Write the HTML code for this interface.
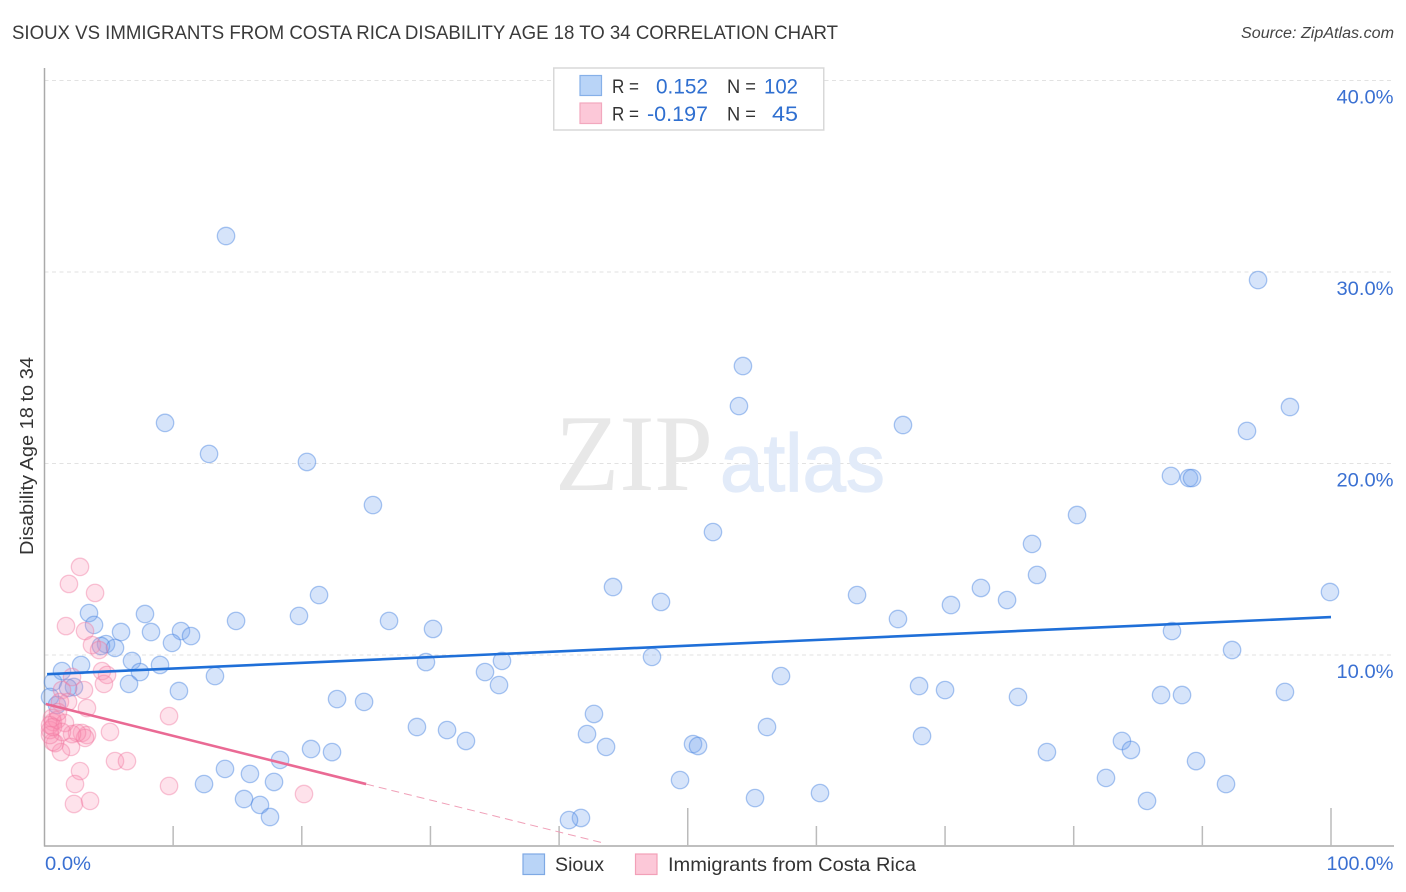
<!DOCTYPE html>
<html lang="en">
<head>
<meta charset="utf-8">
<title>Sioux vs Immigrants from Costa Rica Disability Age 18 to 34 Correlation Chart</title>
<style>
html,body{margin:0;padding:0;background:#fff;width:1406px;height:892px;overflow:hidden}
svg{display:block;font-family:"Liberation Sans",sans-serif}
</style>
</head>
<body>
<svg id="chart" xmlns="http://www.w3.org/2000/svg" width="1406" height="892" viewBox="0 0 1406 892">
  <rect x="0" y="0" width="1406" height="892" fill="#ffffff"/>
  <text x="12" y="39" font-size="19" fill="#3a3a3a" textLength="826" lengthAdjust="spacingAndGlyphs">SIOUX VS IMMIGRANTS FROM COSTA RICA DISABILITY AGE 18 TO 34 CORRELATION CHART</text>
  <text x="1241" y="38" font-size="15.5" font-style="italic" fill="#444444" textLength="153" lengthAdjust="spacingAndGlyphs">Source: ZipAtlas.com</text>
  <g id="grid"></g>
  <text x="555" y="490" font-size="109" font-family="'Liberation Serif',serif" fill="#e8e8e8" textLength="158" lengthAdjust="spacingAndGlyphs">ZIP</text>
  <text x="720" y="491" font-size="82" fill="#e2ebf9" stroke="#e2ebf9" stroke-width="1.2" textLength="165" lengthAdjust="spacingAndGlyphs">atlas</text>
  <g id="axes"></g>
  <g id="points"></g>
  <g id="lines"></g>
  <text x="0" y="0" transform="translate(33 555) rotate(-90)" font-size="18" fill="#333333" textLength="198" lengthAdjust="spacingAndGlyphs">Disability Age 18 to 34</text>
  <g id="ticklabels"></g>

  <g>
    <rect x="553.75" y="68" width="270" height="62" fill="#ffffff" stroke="#d8d8d8" stroke-width="1.5"/>
    <rect x="580" y="75.5" width="21.5" height="20" fill="#b9d4f7" stroke="#86b0e8" stroke-width="1.2"/>
    <rect x="580" y="103" width="21.5" height="20.5" fill="#fcc8d8" stroke="#f2a8be" stroke-width="1.2"/>
    <text x="612" y="93" font-size="19" fill="#333333" textLength="27" lengthAdjust="spacingAndGlyphs">R =</text>
    <text x="656" y="93.5" font-size="21" fill="#2f6fd0" textLength="52" lengthAdjust="spacingAndGlyphs">0.152</text>
    <text x="727" y="93" font-size="19" fill="#333333" textLength="29" lengthAdjust="spacingAndGlyphs">N =</text>
    <text x="764" y="93.5" font-size="21" fill="#2f6fd0" textLength="34" lengthAdjust="spacingAndGlyphs">102</text>
    <text x="612" y="120.5" font-size="19" fill="#333333" textLength="27" lengthAdjust="spacingAndGlyphs">R =</text>
    <text x="647" y="121" font-size="21" fill="#2f6fd0" textLength="61" lengthAdjust="spacingAndGlyphs">-0.197</text>
    <text x="727" y="120.5" font-size="19" fill="#333333" textLength="29" lengthAdjust="spacingAndGlyphs">N =</text>
    <text x="772" y="121" font-size="21" fill="#2f6fd0" textLength="26" lengthAdjust="spacingAndGlyphs">45</text>
  </g>

  <g>
    <rect x="523" y="854" width="21.5" height="20.5" fill="#b9d4f7" stroke="#7ea9e4" stroke-width="1.2"/>
    <text x="555" y="871" font-size="19.5" fill="#333333" textLength="49" lengthAdjust="spacingAndGlyphs">Sioux</text>
    <rect x="635.5" y="854" width="21.5" height="20.5" fill="#fcc8d8" stroke="#f2a0b8" stroke-width="1.2"/>
    <text x="668" y="871" font-size="19.5" fill="#333333" textLength="248" lengthAdjust="spacingAndGlyphs">Immigrants from Costa Rica</text>
  </g>
</svg>

<script>
// Chart data (percent values)
const xTickValues = [0, 10, 20, 30, 40, 50, 60, 70, 80, 90, 100];
const yTickValues = [10, 20, 30, 40];
const yTickLabels = ['10.0%', '20.0%', '30.0%', '40.0%'];
const xEndLabels = ['0.0%', '100.0%'];

const siouxX = [14.11,94.33,54.29,53.98,9.37,66.73,96.81,93.47,12.79,20.40,87.56,88.96,89.20,25.53,80.26,51.96,76.76,77.15,72.79,44.19,99.92,21.34,63.16,74.82,47.92,70.46,3.46,7.81,19.78,66.34,14.89,26.78,3.85,30.20,5.95,8.28,10.61,87.64,11.39,9.91,4.78,4.39,5.48,92.31,47.22,6.80,29.65,35.56,8.98,2.84,1.36,7.42,34.24,13.25,57.25,0.66,6.57,35.33,67.98,2.29,1.83,70.00,10.45,96.42,86.79,88.42,0.43,0.97,75.67,22.74,24.84,42.71,28.95,56.16,31.29,42.17,68.21,32.76,83.75,50.41,50.80,43.65,20.72,84.45,22.35,77.92,18.31,89.51,14.03,15.97,82.51,49.40,17.84,12.40,91.84,60.28,55.23,15.51,85.70,16.75,41.70,40.77,17.53];
const siouxY = [31.88,29.58,25.09,23.00,22.12,22.01,22.95,21.70,20.50,20.08,19.35,19.24,19.24,17.83,17.31,16.42,15.80,14.18,13.50,13.55,13.29,13.13,13.13,12.87,12.77,12.61,12.19,12.14,12.04,11.88,11.78,11.78,11.57,11.36,11.20,11.20,11.25,11.25,10.99,10.63,10.57,10.47,10.37,10.26,9.90,9.69,9.63,9.69,9.48,9.48,9.16,9.11,9.11,8.90,8.90,8.59,8.49,8.43,8.38,8.33,8.28,8.17,8.12,8.07,7.91,7.91,7.81,7.39,7.81,7.70,7.55,6.92,6.24,6.24,6.08,5.87,5.77,5.51,5.51,5.35,5.25,5.20,5.09,5.04,4.93,4.93,4.52,4.46,4.05,3.79,3.58,3.47,3.37,3.26,3.26,2.79,2.53,2.48,2.38,2.17,1.49,1.38,1.54];

const costaRicaX = [2.76,1.90,3.93,1.67,3.15,3.69,4.24,4.47,4.86,4.62,2.14,3.07,3.30,1.36,1.83,1.20,9.68,5.09,5.48,6.41,2.76,2.37,2.29,3.54,9.68,20.17,2.91,3.30,3.15,2.53,2.14,2.06,1.28,0.82,0.66,0.43,0.66,0.58,0.97,0.43,1.59,1.36,0.43,1.05,0.66];
const costaRicaY = [14.60,13.71,13.24,11.51,11.25,10.52,10.26,9.16,8.96,8.49,8.85,8.17,7.23,8.17,7.55,7.55,6.81,5.98,4.46,4.46,3.94,3.26,2.22,2.38,3.16,2.74,5.93,5.82,5.67,5.93,5.87,5.20,4.93,5.40,5.46,6.08,6.50,6.71,6.61,6.34,6.45,5.98,5.82,7.02,6.24];

const siouxTrendX = [0.2, 100];
const siouxTrendY = [9.0, 11.98];
const costaRicaTrendX = [0.1, 25];
const costaRicaTrendY = [7.44, 3.26];
const costaRicaDashX = [25, 43.4];
const costaRicaDashY = [3.26, 0.19];

// Axis functions
const NS = 'http://www.w3.org/2000/svg';
const sx = v => 44.5 + v * 12.865;
const sy = v => 846.5 - v * 19.15;

function mk(parent, tag, attrs, text) {
  const el = document.createElementNS(NS, tag);
  for (const k in attrs) el.setAttribute(k, attrs[k]);
  if (text !== undefined) el.textContent = text;
  parent.appendChild(el);
  return el;
}

const grid = document.getElementById('grid');
const axes = document.getElementById('axes');
const points = document.getElementById('points');
const lines = document.getElementById('lines');
const tickLabels = document.getElementById('ticklabels');

yTickValues.forEach(function (v, i) {
  const g = mk(grid, 'line', {x1: 44.5, x2: 1394, y1: sy(v), y2: sy(v), stroke: '#e2e2e2', 'stroke-width': 1, 'stroke-dasharray': '4 3.5'});
  
  
  const t = mk(tickLabels, 'text', {x: 1393.5, y: sy(v) + 23, 'font-size': 19.5, fill: '#3a70d2', 'text-anchor': 'end', textLength: 57, lengthAdjust: 'spacingAndGlyphs'}, yTickLabels[i]);
  
  
});

const yAxis = mk(axes, 'line', {x1: 44.5, x2: 44.5, y1: 68, y2: 846.5, stroke: '#aaaaaa', 'stroke-width': 1.5});


const xAxis = mk(axes, 'line', {x1: 44, x2: 1394, y1: 846, y2: 846, stroke: '#aaaaaa', 'stroke-width': 1.5});



xTickValues.slice(1).forEach(function (v) {
  const top = (v === 50 || v === 100) ? 808 : 826;
  const t = mk(axes, 'line', {x1: sx(v), x2: sx(v), y1: top, y2: 846, stroke: '#bbbbbb', 'stroke-width': 1.5});
  
  
});

const xLabel0 = mk(tickLabels, 'text', {x: 45, y: 870, 'font-size': 19.5, fill: '#3a70d2', textLength: 46, lengthAdjust: 'spacingAndGlyphs'}, xEndLabels[0]);


const xLabel1 = mk(tickLabels, 'text', {x: 1393.5, y: 870, 'font-size': 19.5, fill: '#3a70d2', 'text-anchor': 'end', textLength: 67, lengthAdjust: 'spacingAndGlyphs'}, xEndLabels[1]);



siouxX.forEach(function (v, i) {
  const c = mk(points, 'circle', {cx: sx(v), cy: sy(siouxY[i]), r: 8.7, fill: 'rgba(120,165,240,0.3)', stroke: 'rgba(70,130,225,0.45)', 'stroke-width': 1.3});
  
  
});
costaRicaX.forEach(function (v, i) {
  const c = mk(points, 'circle', {cx: sx(v), cy: sy(costaRicaY[i]), r: 8.7, fill: 'rgba(250,140,175,0.25)', stroke: 'rgba(240,120,160,0.42)', 'stroke-width': 1.3});
  
  
});

const blueLine = mk(lines, 'line', {x1: sx(siouxTrendX[0]), y1: sy(siouxTrendY[0]), x2: sx(siouxTrendX[1]), y2: sy(siouxTrendY[1]), stroke: '#1f6fd8', 'stroke-width': 2.6});


const pinkLine = mk(lines, 'line', {x1: sx(costaRicaTrendX[0]), y1: sy(costaRicaTrendY[0]), x2: sx(costaRicaTrendX[1]), y2: sy(costaRicaTrendY[1]), stroke: '#ea6a94', 'stroke-width': 2.6});


const pinkDash = mk(lines, 'line', {x1: sx(costaRicaDashX[0]), y1: sy(costaRicaDashY[0]), x2: sx(costaRicaDashX[1]), y2: sy(costaRicaDashY[1]), stroke: '#f0a0b8', 'stroke-width': 1, 'stroke-dasharray': '8 5'});


</script>
</body>
</html>
